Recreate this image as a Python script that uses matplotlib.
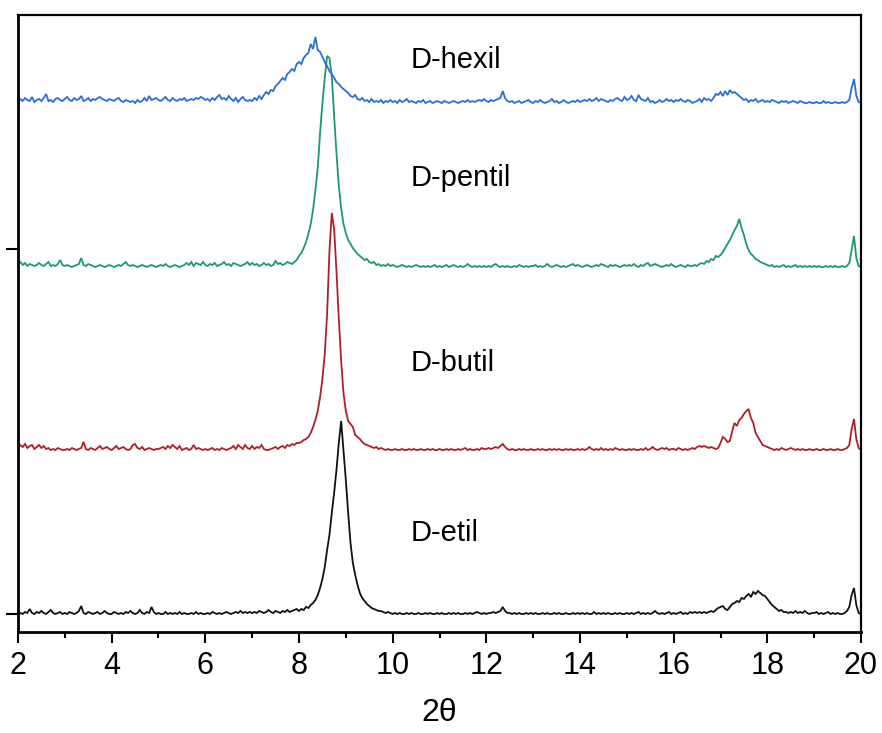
import numpy as np
import matplotlib
matplotlib.use('Agg')
import matplotlib.pyplot as plt
from matplotlib.ticker import MultipleLocator

# sampling grid of the diffractograms (2theta, degrees)
two_theta = np.linspace(2.0, 20.0, 361)

# intensities above each trace's own baseline (arbitrary units), one row per degree
etil = [
    1,2,1,3,2,6,2,1,3,2,4,2,1,3,5,2,1,2,3,1,
    2,1,3,2,1,2,4,9,2,1,3,2,1,2,3,1,2,4,2,1,
    1,3,2,1,2,1,3,2,4,2,1,2,5,2,1,3,2,8,3,1,
    2,1,1,3,1,2,1,2,1,3,1,2,1,1,2,1,3,1,2,1,
    1,2,1,3,2,1,2,1,2,3,2,1,2,3,2,4,2,3,2,3,
    2,3,2,4,3,2,3,5,3,2,4,3,2,4,3,5,3,4,5,6,
    4,6,5,8,7,10,12,15,20,27,36,48,65,80,102,122,145,172,194,165,
    135,102,72,52,40,30,22,17,14,11,9,7,6,5,4,4,3,2,3,2,
    1,2,1,2,1,1,2,1,2,1,1,2,1,1,2,1,2,1,1,2,
    1,2,1,1,2,1,2,1,2,1,1,2,1,2,1,2,3,2,1,2,
    1,2,2,3,2,3,4,8,4,2,2,1,2,1,2,1,1,2,1,2,
    1,2,1,1,2,1,2,1,1,2,1,2,1,1,2,1,1,2,1,2,
    1,2,1,2,1,1,3,1,2,1,2,1,2,1,1,2,1,2,1,1,
    2,1,2,1,2,3,1,2,1,2,1,2,4,2,1,2,1,2,3,1,
    2,1,2,3,1,2,1,3,2,3,2,3,2,3,2,3,4,3,5,7,
    8,9,6,5,8,11,12,14,13,17,16,19,21,18,23,21,24,22,20,19,
    16,13,10,8,6,4,5,3,3,2,3,2,4,2,3,2,4,2,1,2,
    2,3,1,2,1,2,3,1,2,1,2,1,1,2,4,8,20,27,10,2,
    1]

butil = [
    3,6,4,7,3,5,6,2,4,6,3,5,2,3,1,2,1,3,2,1,
    1,2,1,3,2,1,2,3,9,2,1,3,2,1,3,5,2,3,4,2,
    1,3,5,2,3,4,2,1,2,6,7,3,2,4,1,2,3,2,1,2,
    2,3,4,2,5,3,6,4,2,5,1,2,3,1,2,6,2,3,2,1,
    2,1,2,3,1,2,1,3,2,1,2,3,5,2,6,4,2,6,3,2,
    5,2,4,3,6,2,1,1,2,3,4,2,4,5,3,6,5,7,6,8,
    8,9,11,12,14,18,24,31,40,54,72,97,137,200,238,222,180,132,90,58,
    40,30,27,24,16,14,12,9,7,6,5,4,3,4,2,3,2,1,2,1,
    1,2,1,1,2,1,1,2,1,2,1,1,2,1,1,2,1,2,1,1,
    2,1,1,2,1,2,1,1,2,1,2,3,1,2,1,1,2,1,3,2,
    2,3,2,3,4,3,5,7,4,2,1,2,1,1,2,1,2,1,1,2,
    1,1,2,1,2,1,1,2,1,2,1,2,1,1,2,1,2,1,1,2,
    1,2,1,2,4,2,1,2,1,3,1,2,1,2,1,3,2,1,2,1,
    1,2,1,2,1,1,2,1,3,1,2,4,2,1,2,3,2,3,1,2,
    2,1,3,2,1,2,1,2,3,2,4,5,4,5,4,3,4,3,2,3,
    8,14,12,9,10,20,28,25,31,33,37,40,42,33,28,18,14,10,6,5,
    4,3,2,1,2,1,3,2,1,2,3,2,1,2,1,2,1,1,2,1,
    1,2,1,1,2,1,1,2,1,1,2,1,1,2,3,6,22,32,12,3,
    1]

pentil = [
    4,6,3,5,2,4,3,2,3,5,3,2,4,6,2,3,2,4,8,3,
    2,3,2,1,2,3,4,10,3,2,4,3,2,1,2,3,2,1,2,3,
    2,1,2,3,2,4,6,3,2,3,2,1,2,3,2,1,2,3,2,1,
    2,3,2,4,2,1,2,3,2,1,2,3,5,3,6,2,5,4,3,6,
    3,2,4,3,5,2,3,4,6,3,4,2,5,4,3,2,3,4,6,3,
    5,3,4,2,3,5,3,4,2,3,7,4,5,3,4,6,5,4,6,8,
    12,15,20,26,34,44,58,78,100,135,165,190,212,210,192,152,115,82,60,44,
    35,28,24,20,17,14,12,10,8,9,6,5,6,3,4,2,3,2,4,2,
    3,2,1,2,3,2,1,2,1,2,3,2,1,2,1,2,1,2,3,1,
    2,1,2,3,1,2,3,2,1,2,1,2,4,2,1,2,1,2,1,2,
    1,2,1,3,4,2,1,2,1,2,1,1,2,1,3,2,1,2,1,2,
    2,3,1,2,1,2,4,2,1,2,3,2,1,2,1,2,3,4,2,3,
    2,1,2,3,2,1,2,3,2,4,3,2,1,3,2,3,2,1,2,3,
    2,3,2,4,2,1,3,2,4,5,2,3,4,3,2,1,2,3,2,4,
    2,1,2,3,2,1,3,2,2,3,2,4,5,4,7,6,9,8,12,11,
    13,16,20,24,28,33,38,42,49,40,33,24,18,14,12,9,8,6,5,4,
    3,2,3,1,2,1,2,3,1,2,1,2,3,1,2,1,2,1,2,1,
    2,1,2,1,1,2,1,2,1,2,1,1,2,1,2,5,18,32,10,2,
    1]

hexil = [
    2,5,3,6,4,3,7,2,4,5,3,6,10,3,4,2,5,6,4,3,
    5,7,4,3,6,4,5,8,3,4,6,3,5,4,6,7,5,4,3,5,
    4,3,5,6,3,2,4,3,2,3,1,4,2,3,6,3,8,4,5,6,
    4,3,5,7,4,3,6,4,3,5,4,6,3,4,5,4,6,5,7,6,
    4,5,3,6,4,7,9,5,6,4,8,5,3,6,2,5,7,4,3,4,
    3,6,4,8,5,9,12,10,14,13,18,20,23,26,24,30,32,35,33,40,
    42,40,46,49,51,60,55,67,54,52,47,42,38,33,30,26,22,20,17,15,
    13,11,8,7,9,5,4,6,3,4,2,5,2,3,2,4,1,3,2,4,
    2,3,1,4,2,3,5,2,3,2,1,3,2,4,1,2,3,1,2,3,
    2,1,3,2,1,2,3,2,1,2,3,2,4,2,3,2,3,4,3,5,
    3,2,4,3,4,5,6,13,6,3,2,3,1,2,3,1,2,3,4,2,
    1,3,2,4,2,1,2,3,5,2,3,1,2,4,2,1,2,3,2,4,
    2,3,4,3,5,3,4,6,3,5,4,3,2,4,3,5,6,4,3,7,
    4,5,8,4,3,9,5,4,3,6,2,3,1,2,4,2,3,5,3,4,
    2,4,3,5,3,2,4,3,1,2,3,5,2,6,4,5,3,6,10,9,
    12,8,13,9,14,11,12,10,8,6,4,5,2,4,3,5,2,3,4,2,
    3,2,4,3,2,1,3,2,3,1,2,3,2,1,3,2,1,1,2,1,
    1,2,1,1,3,1,2,1,1,2,1,1,2,1,2,4,16,25,8,2,
    1]

series = [etil, butil, pentil, hexil]
labels = ['D-etil', 'D-butil', 'D-pentil', 'D-hexil']
offsets = [17, 181, 364, 528]
label_y = [99, 269, 454, 572]
label_x = 10.38
colors = ['#111111', '#b01e2c', '#1b9a6b', '#2870d8']
xticks_major = [2, 4, 6, 8, 10, 12, 14, 16, 18, 20]
yticks = [18, 383]

plt.rcParams['font.family'] = ['Liberation Sans', 'DejaVu Sans']

fig = plt.figure(figsize=(8.82, 7.33), dpi=100)
ax = fig.add_axes([18 / 882, 101 / 733, 843 / 882, 617 / 733])

for vals, off, col in zip(series, offsets, colors):
    ax.plot(two_theta, np.asarray(vals) + off, color=col, lw=1.3, solid_joinstyle='miter')

for lab, ly in zip(labels, label_y):
    ax.text(label_x, ly, lab, fontsize=21, ha='left', va='center', color='black')

ax.set_xlim(2, 20)
ax.set_ylim(0, 617)
ax.set_xticks(xticks_major)
ax.xaxis.set_minor_locator(MultipleLocator(1))
ax.set_yticks(yticks)
ax.set_yticklabels([])
ax.tick_params(axis='x', which='major', direction='out', length=8, width=1.5,
               labelsize=22, pad=6, top=False)
ax.tick_params(axis='x', which='minor', direction='out', length=4, width=1.5, top=False)
ax.tick_params(axis='y', which='major', direction='out', length=9, width=1.5, right=False)
for side in ['left', 'bottom']:
    ax.spines[side].set_linewidth(2.0)
for side in ['top', 'right']:
    ax.spines[side].set_linewidth(1.6)
ax.set_xlabel('2θ', fontsize=23, labelpad=12)

fig.savefig('out.png', dpi=100)
